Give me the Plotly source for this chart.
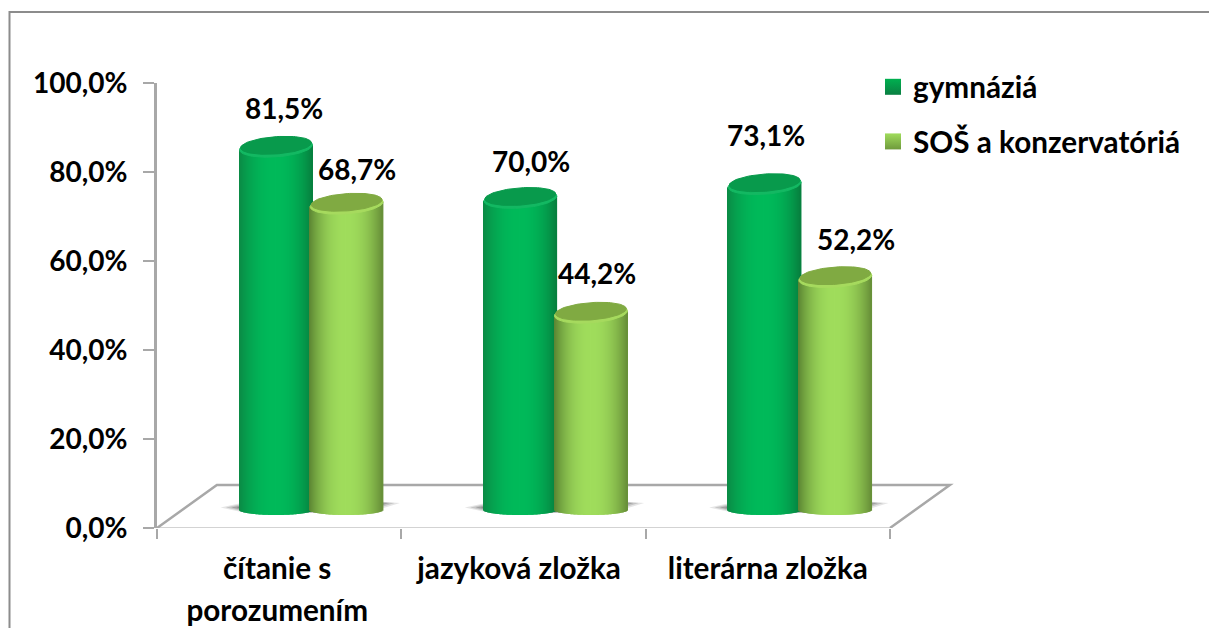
import numpy as np
import plotly.graph_objects as go

# ---- data ----
categories = ["čítanie s<br>porozumením", "jazyková zložka", "literárna zložka"]
gymnazia = [81.5, 70.0, 73.1]
sos = [68.7, 44.2, 52.2]
y_ticks = [0, 20, 40, 60, 80, 100]

# ---- layout constants (pixels of the page) ----
W, H = 1209, 628
PX_L, PX_R, PX_T, PX_B = 157, 955, 83, 528
CAT_PX = (890 - 157) / 3
XMAX = -0.5 + (PX_R - PX_L) / CAT_PX
Y_PX = (PX_B - PX_T) / 100
FLOOR = 4.05           # height of the bar base above the axis (3-D floor)
FLOOR_BACK = 9.66
RX = 36.5 / CAT_PX
RY = 9.6 / Y_PX
RY_BOTTOM = 5.0 / Y_PX
TILT = 2.5 / Y_PX
OFFS = [-0.013, 0.276]
N = 73
FONT = "Lato"
FS = 28
FS_BIG = 29.7
GRAY = "#a8a8a8"


def hex2rgb(h):
    return np.array([int(h[i:i + 2], 16) for i in (1, 3, 5)], float)


def shade(t, edgeL, mid, edgeR):
    """t in -1..1 across the cylinder"""
    a = hex2rgb(mid)
    b = hex2rgb(edgeL if t < 0 else edgeR)
    k = abs(t) ** 2.2
    c = a * (1 - k) + b * k
    return "rgb(%d,%d,%d)" % tuple(c)


def cylinder(vals, off, edgeL, mid, edgeR, cap, rim):
    xs, hs, bs, ws, cols = [], [], [], [], []
    ts = (np.arange(N) + 0.5) / N * 2 - 1
    w = 2 * RX / N
    for i, v in enumerate(vals):
        for t in ts:
            b = FLOOR - RY_BOTTOM * np.sqrt(1 - t ** 2)
            top = v + FLOOR + TILT * t
            xs.append(i + off + t * RX)
            bs.append(b)
            hs.append(top - b)
            ws.append(w * 1.6)
            cols.append(shade(t, edgeL, mid, edgeR))
    traces = [go.Bar(x=xs, y=hs, base=bs, width=ws, marker=dict(color=cols, line_width=0),
                     showlegend=False, hoverinfo="skip")]
    th = np.linspace(0, 2 * np.pi, 90)
    for i, v in enumerate(vals):
        cx = i + off
        cy = v + FLOOR
        traces.append(go.Scatter(x=cx + RX * np.cos(th),
                                 y=cy + RY * np.sin(th) + TILT * np.cos(th),
                                 mode="lines", fill="toself", fillcolor=rim,
                                 line=dict(color=rim, width=1),
                                 showlegend=False, hoverinfo="skip"))
        traces.append(go.Scatter(x=cx + 0.97 * RX * np.cos(th),
                                 y=cy + 0.45 + 0.9 * RY * np.sin(th) + TILT * np.cos(th),
                                 mode="lines", fill="toself", fillcolor=cap,
                                 line=dict(color=cap, width=1),
                                 showlegend=False, hoverinfo="skip"))
    return traces


def path(pts):
    return "M " + " L ".join(f"{x},{y}" for x, y in pts) + " Z"


fig = go.Figure()

# floor of the 3-D plot (below the bars)
skew = 0.245
fig.add_shape(type="path", xref="x", yref="y", layer="below",
              path=f"M -0.5,0 L {-0.5 + skew},{FLOOR_BACK} L {2.5 + skew},{FLOOR_BACK} L 2.5,0",
              line=dict(color=GRAY, width=2.5))

# soft shadows on the floor, left and right of each pair of bars
for i in range(len(categories)):
    cx = i + 0.127
    for sc, op in ((1.0, 0.14), (0.94, 0.20), (0.88, 0.28), (0.82, 0.34)):
        hw = 0.367 * sc
        fig.add_shape(type="path", xref="x", yref="y", layer="below",
                      path=path([(cx - hw, 4.6), (cx - hw + 0.1, 5.4 + 0.4 * sc), (cx + hw - 0.1, 5.6 + 0.4 * sc),
                                 (cx + hw, 5.6), (cx + hw - 0.12, 3.6), (cx - hw + 0.1, 3.4)]),
                      fillcolor=f"rgba(70,70,70,{op})", line_width=0)

# x axis line
fig.add_trace(go.Scatter(x=[-0.5, 2.5], y=[-0.25, -0.25], mode="lines", line=dict(color=GRAY, width=3),
                         cliponaxis=False, showlegend=False, hoverinfo="skip"))

for tr in cylinder(gymnazia, OFFS[0], "#0b8a45", "#00ba5a", "#07803f", "#089a4c", "#13b862"):
    fig.add_trace(tr)
for tr in cylinder(sos, OFFS[1], "#5a8432", "#a0dd5c", "#678f38", "#80aa42", "#a6da5e"):
    fig.add_trace(tr)

# legend entries
fig.add_trace(go.Scatter(x=[None], y=[None], mode="markers", name="gymnáziá", legendgroup="a",
                         marker=dict(symbol="square", size=16, color="#00b050",
                                     gradient=dict(type="vertical", color="#0a7f42"))))
fig.add_trace(go.Scatter(x=[None], y=[None], mode="markers", name="SOŠ a konzervatóriá", legendgroup="b",
                         marker=dict(symbol="square", size=16, color="#a0dc5c",
                                     gradient=dict(type="vertical", color="#6f9a3c"))))


def pct(v):
    return f"{v:.1f}".replace(".", ",") + "%"


# data labels: nudges in pixels for each label
nudges = [[(8, 39), (10, 35)], [(11, 37), (6, 40)], [(1, 50), (21, 39)]]
for s, vals in enumerate((gymnazia, sos)):
    for i, v in enumerate(vals):
        dx, dy = nudges[i][s]
        fig.add_annotation(x=i + OFFS[s], y=v + FLOOR, text=pct(v), showarrow=False,
                           xshift=dx, yshift=dy,
                           font=dict(family=FONT, size=FS, color="#000000", weight="bold"))


def px_x(p):
    return (p - PX_L) / (PX_R - PX_L)


def px_y(p):
    return (PX_B - p) / (PX_B - PX_T)


# chart frame: left and top edge only
fig.add_shape(type="path", xref="paper", yref="paper",
              path=f"M {px_x(9.5)},{px_y(H)} L {px_x(9.5)},{px_y(12)} L {px_x(W)},{px_y(12)}",
              line=dict(color="#8c8c8c", width=2), layer="below")

tick_labels = [
    "<br>".join(f'<span style="font-size:{FS_BIG}px">{part}</span>' for part in c.split("<br>"))
    for c in categories
]
y_tick_text = [f"{v:.1f}".replace(".", ",") + "%" for v in y_ticks]
label_shift = [-0.008, -0.018, 0.0]

fig.update_layout(
    width=W, height=H,
    margin=dict(l=PX_L, r=W - PX_R, t=PX_T, b=H - PX_B, pad=0, autoexpand=False),
    paper_bgcolor="white", plot_bgcolor="rgba(0,0,0,0)",
    barmode="overlay",
    font=dict(family=FONT, color="#000000"),
    legend=dict(x=px_x(873), y=px_y(61), xanchor="left", yanchor="top", tracegroupgap=13,
                font=dict(family=FONT, size=FS_BIG, color="#000000", weight="bold"),
                bgcolor="rgba(0,0,0,0)"),
    xaxis=dict(range=[-0.5, XMAX], tickmode="array",
               tickvals=[i + d for i, d in enumerate(label_shift)], ticktext=tick_labels,
               showgrid=False, zeroline=False, showline=False, ticks="", ticklabelstandoff=17,
               tickfont=dict(family=FONT, size=32.5, color="#000000", weight="bold"),
               minor=dict(tickmode="array", tickvals=[-0.5, 0.5, 1.5, 2.5], ticks="outside",
                          ticklen=10, tickwidth=2, tickcolor=GRAY, showgrid=False)),
    yaxis=dict(range=[0, 100], tickmode="array", tickvals=y_ticks, ticktext=y_tick_text,
               showgrid=False, zeroline=False, showline=True, linecolor=GRAY, linewidth=3,
               ticks="outside", ticklen=11, tickwidth=2, tickcolor=GRAY, ticklabelstandoff=10,
               tickfont=dict(family=FONT, size=FS, color="#000000", weight="bold")),
)

fig.write_html("out.html", config={"displayModeBar": False},
               post_script="document.body.style.margin='0';document.body.style.overflow='hidden';")
